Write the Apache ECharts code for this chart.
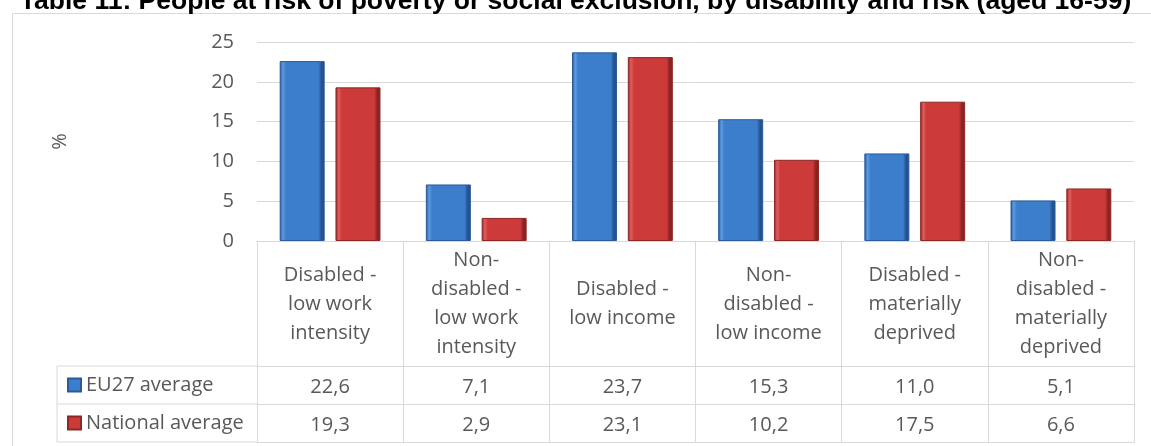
<!DOCTYPE html>
<html>
<head>
<meta charset="utf-8">
<script src="https://cdn.jsdelivr.net/npm/echarts@6/dist/echarts.min.js"></script>
<style>
html,body{margin:0;padding:0;background:#fff;}
#c{width:1151px;height:446px;}
</style>
</head>
<body>
<div id="c"></div>
<script>
const titleText = 'Table 11: People at risk of poverty or social exclusion, by disability and risk (aged 16-59)';
const categories = [
  'Disabled -\nlow work\nintensity',
  'Non-\ndisabled -\nlow work\nintensity',
  'Disabled -\nlow income',
  'Non-\ndisabled -\nlow income',
  'Disabled -\nmaterially\ndeprived',
  'Non-\ndisabled -\nmaterially\ndeprived'
];
const seriesNames = ['EU27 average', 'National average'];
const euValues = [22.6, 7.1, 23.7, 15.3, 11.0, 5.1];
const nationalValues = [19.3, 2.9, 23.1, 10.2, 17.5, 6.6];
const yTicks = [0, 5, 10, 15, 20, 25];

const font = "'Open Sans', sans-serif";
const txt = '#595959';
const lineC = '#d9d9d9';
const fmt = v => v.toFixed(1).replace('.', ',');

function grad(light, main, dark) {
  return new echarts.graphic.LinearGradient(0, 0, 1, 0, [
    {offset: 0, color: dark},
    {offset: 0.07, color: light},
    {offset: 0.14, color: main},
    {offset: 0.86, color: main},
    {offset: 0.93, color: dark},
    {offset: 1, color: dark}
  ]);
}

const chart = echarts.init(document.getElementById('c'));
const tableAxis = (offset, labels) => ({
  type: 'category', gridIndex: 0, position: 'bottom', offset: offset,
  data: categories, boundaryGap: true,
  axisLine: {show: true, lineStyle: {color: lineC, width: 1}},
  axisTick: {show: false},
  axisLabel: labels ? {
    show: true, interval: 0, margin: 21, verticalAlign: 'middle',
    fontFamily: font, fontSize: 20, color: txt,
    formatter: (v, i) => fmt(labels[i])
  } : {show: false}
});

chart.setOption({
  animation: false,
  backgroundColor: '#fff',
  title: {
    text: titleText, left: 'center', top: -12, padding: 0,
    textStyle: {fontFamily: "'Liberation Sans', Arial, sans-serif", fontWeight: 'bold', fontSize: 26.5, color: '#000'}
  },
  legend: {
    orient: 'vertical', left: 67, top: 375, padding: 0,
    itemWidth: 13, itemHeight: 13, itemGap: 18,
    icon: 'rect',
    textStyle: {fontFamily: font, fontSize: 20, color: txt, lineHeight: 20},
    data: seriesNames
  },
  grid: {left: 257, right: 17, top: 42, bottom: 205, containLabel: false},
  xAxis: [
    {
      type: 'category', data: categories, position: 'bottom', boundaryGap: true,
      axisLine: {show: true, lineStyle: {color: lineC, width: 1}},
      axisTick: {show: true, length: 201, interval: 0, lineStyle: {color: lineC, width: 1}},
      axisLabel: {
        interval: 0, margin: 63, verticalAlign: 'middle', align: 'center',
        fontFamily: font, fontSize: 20, lineHeight: 29, color: txt
      }
    },
    tableAxis(125, euValues),
    tableAxis(163, nationalValues),
    tableAxis(201, null)
  ],
  yAxis: {
    type: 'value', min: 0, max: 25, interval: 5,
    name: '%', nameLocation: 'middle', nameGap: 187, nameRotate: 90,
    nameTextStyle: {fontFamily: font, fontSize: 20, color: txt},
    axisLine: {show: false}, axisTick: {show: false},
    axisLabel: {margin: 23, fontFamily: font, fontSize: 20, color: txt,
      formatter: v => yTicks.includes(v) ? String(v) : ''},
    splitLine: {lineStyle: {color: lineC, width: 1}}
  },
  graphic: [
    {type: 'rect', z: -1, shape: {x: 12.5, y: 13.5, width: 1300, height: 600}, style: {fill: null, stroke: lineC, lineWidth: 1}},
    {type: 'line', shape: {x1: 57, y1: 366, x2: 257, y2: 366}, style: {stroke: lineC, lineWidth: 1}},
    {type: 'line', shape: {x1: 57, y1: 404, x2: 257, y2: 404}, style: {stroke: lineC, lineWidth: 1}},
    {type: 'line', shape: {x1: 57, y1: 442, x2: 257, y2: 442}, style: {stroke: lineC, lineWidth: 1}},
    {type: 'line', shape: {x1: 57, y1: 366, x2: 57, y2: 442}, style: {stroke: lineC, lineWidth: 1}}
  ],
  series: [
    {
      name: seriesNames[0], type: 'bar', data: euValues,
      barWidth: 45, barGap: '24%',
      itemStyle: {color: grad('#5c9be3', '#3c7ecb', '#24528f'), borderColor: '#2a5a98', borderWidth: 1}
    },
    {
      name: seriesNames[1], type: 'bar', data: nationalValues,
      barWidth: 45, barGap: '24%',
      itemStyle: {color: grad('#e05d5d', '#cc3a3a', '#8c2323'), borderColor: '#8e2626', borderWidth: 1}
    }
  ]
});
</script>
</body>
</html>
